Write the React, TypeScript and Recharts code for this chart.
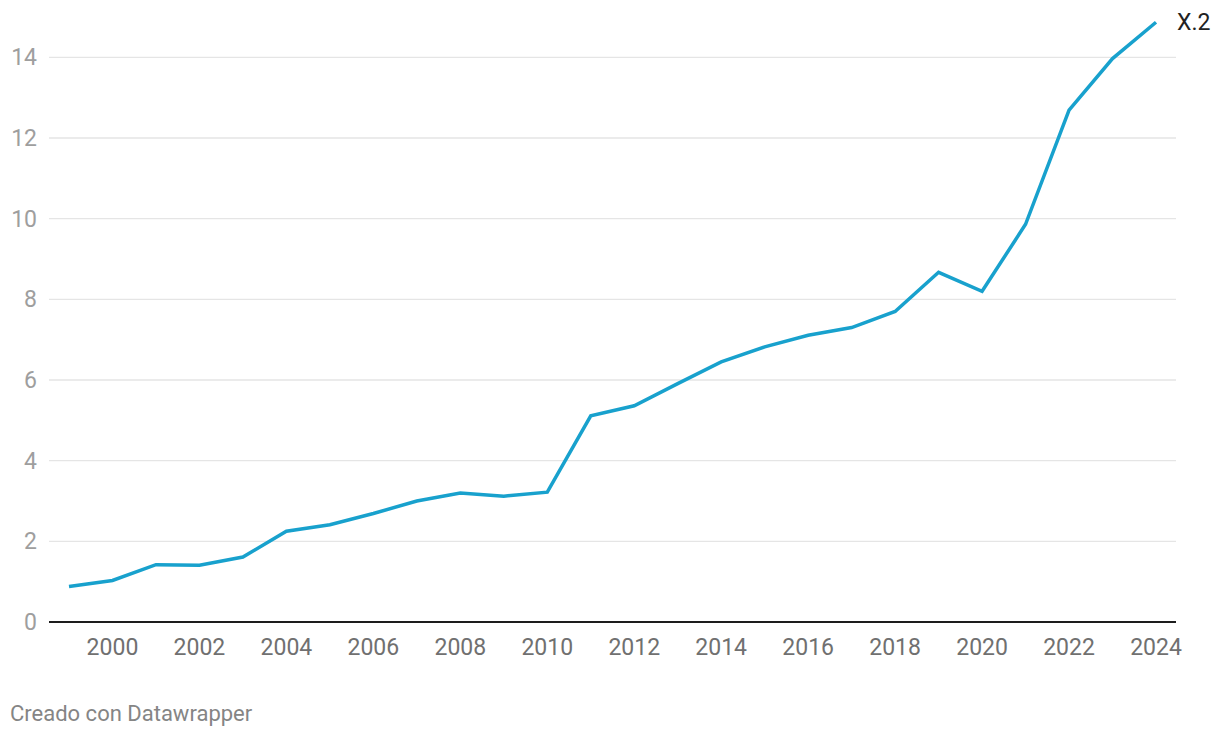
import { CartesianGrid, Line, LineChart, XAxis, YAxis } from 'recharts'

const years = [
  1999, 2000, 2001, 2002, 2003, 2004, 2005, 2006, 2007, 2008, 2009, 2010, 2011,
  2012, 2013, 2014, 2015, 2016, 2017, 2018, 2019, 2020, 2021, 2022, 2023, 2024,
]
const values = [
  0.88, 1.03, 1.42, 1.41, 1.61, 2.25, 2.41, 2.69, 3.0, 3.2, 3.12, 3.22, 5.11,
  5.36, 5.91, 6.45, 6.82, 7.11, 7.3, 7.7, 8.67, 8.2, 9.86, 12.69, 13.97, 14.87,
]
const xTicks = [2000, 2002, 2004, 2006, 2008, 2010, 2012, 2014, 2016, 2018, 2020, 2022, 2024]
const yTicks = [0, 2, 4, 6, 8, 10, 12, 14]
const seriesName = 'X.2'

const data = years.map((year, i) => ({ year, value: values[i] }))

const FONT = 'Roboto, "Noto Sans", sans-serif'
const LINE_COLOR = '#18a1cd'

function EndLabel(props: any) {
  const { x, y, index } = props
  if (index !== data.length - 1) return null
  return (
    <text x={x + 21} y={y} dominantBaseline="central" fontSize={23} fill="#222" fontFamily={FONT}>
      {seriesName}
    </text>
  )
}

export default function App() {
  return (
    <div style={{ position: 'absolute', left: 0, top: 0, width: 1220, height: 738, background: '#fff', fontFamily: FONT }}>
      <LineChart width={1220} height={690} data={data} margin={{ top: 17, right: 44, bottom: 28, left: 0 }}>
        <CartesianGrid vertical={false} horizontalValues={yTicks} stroke="#e5e5e5" strokeWidth={1.3} />
        <XAxis
          dataKey="year"
          type="number"
          domain={[1999, 2024]}
          ticks={xTicks}
          padding={{ left: 20, right: 20 }}
          height={40}
          tickLine={false}
          axisLine={{ stroke: '#1d1d1d', strokeWidth: 2 }}
          tickMargin={11}
          tick={{ fill: '#707070', fontSize: 23, fontFamily: FONT }}
        />
        <YAxis
          type="number"
          domain={[0, 15]}
          ticks={yTicks}
          width={49}
          tickLine={false}
          axisLine={false}
          tickMargin={6}
          tick={{ fill: '#9e9e9e', fontSize: 23, fontFamily: FONT }}
        />
        <Line
          dataKey="value"
          stroke={LINE_COLOR}
          strokeWidth={3.5}
          dot={false}
          activeDot={false}
          isAnimationActive={false}
          label={<EndLabel />}
        />
      </LineChart>
      <div
        style={{
          position: 'absolute',
          left: 10,
          top: 703,
          fontSize: 22,
          lineHeight: '22px',
          color: '#858585',
        }}
      >
        Creado con Datawrapper
      </div>
    </div>
  )
}
